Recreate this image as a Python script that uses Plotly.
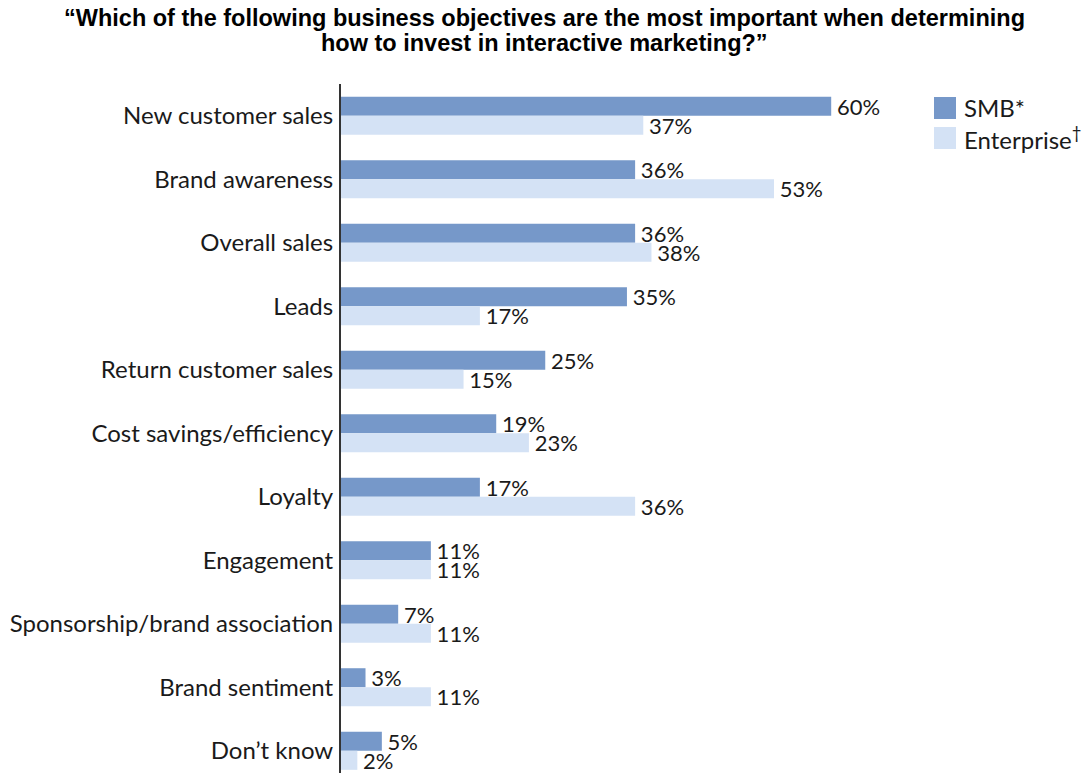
import plotly.graph_objects as go

# Survey data: share of respondents naming each objective
categories = [
    "New customer sales",
    "Brand awareness",
    "Overall sales",
    "Leads",
    "Return customer sales",
    "Cost savings/efficiency",
    "Loyalty",
    "Engagement",
    "Sponsorship/brand association",
    "Brand sentiment",
    "Don\u2019t know",
]
smb_values = [60, 36, 36, 35, 25, 19, 17, 11, 7, 3, 5]
enterprise_values = [37, 53, 38, 17, 15, 23, 36, 11, 11, 11, 2]

series_names = ["SMB*", "Enterprise<sup>\u2020</sup>"]
smb_color = "#7698C9"
ent_color = "#D4E2F5"

title_lines = [
    "\u201cWhich of the following business objectives are the most important when determining",
    "how to invest in interactive marketing?\u201d",
]

W, H = 1082, 773
LEFT, TOP = 341, 84
plot_w = W - LEFT
plot_h = H - TOP
px_per_pct = 8.17

label_font = dict(family="Lato, Open Sans, sans-serif", size=24, color="#1a1a1a")
value_font = dict(family="Lato, Open Sans, sans-serif", size=22, color="#1a1a1a")

fig = go.Figure()
for name, vals, col in [(series_names[0], smb_values, smb_color),
                        (series_names[1], enterprise_values, ent_color)]:
    fig.add_trace(go.Bar(
        y=categories, x=vals, orientation="h", name=name,
        marker=dict(color=col, line=dict(width=0)),
        text=[f"\u2009{v}%" for v in vals], textposition="outside",
        constraintext="none",
        textfont=value_font, cliponaxis=False, showlegend=False,
    ))

# Legend drawn as swatches + labels at the top right
def px_x(x):
    return (x - LEFT) / plot_w

def px_y(y):
    return (H - y) / plot_h

for i, (name, col) in enumerate(zip(series_names, [smb_color, ent_color])):
    y0 = 97 + i * 30
    fig.add_shape(type="rect", xref="paper", yref="paper",
                  x0=px_x(934), x1=px_x(956), y0=px_y(y0 + 22), y1=px_y(y0),
                  fillcolor=col, line=dict(width=0))
    fig.add_annotation(xref="paper", yref="paper", x=px_x(962), y=px_y(y0 + 11),
                       text=name, showarrow=False, xanchor="left", yanchor="middle",
                       font=label_font)

# Two-line title above the plot
for line, yc in zip(title_lines, [18, 43]):
    fig.add_annotation(
        xref="paper", yref="paper", x=px_x(544), y=px_y(yc),
        xanchor="center", yanchor="middle", text=line, showarrow=False,
        font=dict(family="Liberation Sans, Arial, sans-serif", size=23.5,
                  color="#000000", weight="bold"),
    )

fig.update_layout(
    width=W, height=H,
    margin=dict(l=LEFT, r=0, t=TOP, b=0, autoexpand=False),
    paper_bgcolor="white", plot_bgcolor="white",
    barmode="group", bargap=0.4, bargroupgap=0,
    xaxis=dict(range=[0, plot_w / px_per_pct], visible=False, fixedrange=True),
    yaxis=dict(
        categoryorder="array", categoryarray=categories,
        range=[10.35, -0.5],
        showline=True, linecolor="#333333", linewidth=2,
        ticks="", showgrid=False, zeroline=False,
        tickfont=label_font, ticklabelstandoff=1,
    ),
)

fig.write_html("out.html")
